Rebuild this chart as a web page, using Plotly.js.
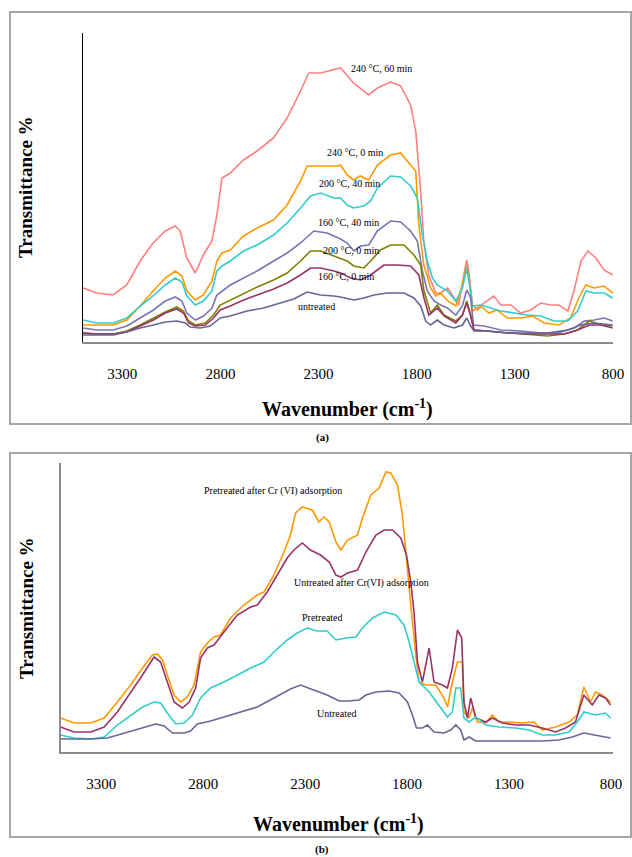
<!DOCTYPE html>
<html><head><meta charset="utf-8">
<script src="https://cdn.plot.ly/plotly-3.0.1.min.js"></script>
<style>html,body{margin:0;padding:0;background:#fff;}#chart{width:632px;height:857px;}</style>
</head><body><div id="chart"></div>
<script>
// ---------- Panel (a): pretreatment conditions ----------
const wnA_240_60 = [3500,3430,3347,3277,3209,3143,3081,3030,3005,2971,2928,2887,2843,2818,2792,2750,2683,2613,2530,2460,2392,2350,2290,2205,2188,2122,2045,2000,1933,1882,1831,1805,1780,1764,1739,1703,1678,1642,1611,1586,1560,1545,1535,1515,1489,1458,1407,1372,1321,1270,1219,1168,1117,1076,1030,999,963,928,887,846,800];
const tA_240_60 = [53,48,46,56,80,98,110,115,110,83,68,86,100,126,163,168,181,190,203,223,250,268,268,272,273,258,246,253,259,255,236,210,150,100,66,48,48,53,43,36,66,81,70,36,31,38,45,36,36,28,31,38,36,36,30,50,80,90,83,71,66];

const wnA_240_0 = [3500,3430,3347,3277,3209,3143,3081,3030,2996,2971,2928,2887,2843,2818,2792,2750,2683,2613,2530,2460,2392,2358,2290,2205,2188,2154,2122,2088,2045,2000,1933,1882,1831,1805,1789,1764,1729,1703,1678,1642,1600,1568,1545,1530,1515,1475,1432,1390,1339,1270,1210,1151,1076,1016,974,939,897,846,800];
const tA_240_0 = [16,16,16,21,35,50,63,70,65,50,41,46,60,80,88,91,105,113,121,136,160,175,175,175,176,166,161,165,161,176,186,188,176,170,116,76,53,45,48,40,35,56,75,56,30,35,28,31,23,23,25,18,16,23,43,56,53,55,48];

const wnA_200_40 = [3500,3430,3347,3277,3209,3143,3081,3030,2996,2971,2928,2887,2843,2818,2792,2750,2683,2613,2530,2460,2392,2341,2290,2222,2188,2154,2122,2069,2035,2000,1933,1882,1831,1797,1771,1746,1720,1695,1644,1601,1567,1545,1528,1516,1474,1423,1372,1304,1235,1167,1100,1031,980,938,895,844,802];
const tA_200_40 = [21,18,18,23,35,45,56,63,59,45,36,40,50,70,75,80,90,96,106,118,133,145,148,143,143,136,133,135,140,153,165,164,155,143,106,80,63,56,50,40,53,73,53,35,36,33,30,28,26,25,20,20,30,50,48,48,43];

const wnA_160_40 = [3500,3430,3345,3277,3209,3141,3081,3030,2996,2971,2928,2886,2843,2818,2750,2682,2613,2529,2460,2392,2324,2256,2188,2154,2120,2086,2044,2001,1933,1882,1831,1797,1771,1746,1712,1678,1644,1601,1567,1545,1525,1511,1457,1372,1270,1167,1082,997,946,895,844,802];
const tA_160_40 = [13,11,11,15,23,31,40,44,40,28,21,25,33,46,56,63,70,80,88,98,110,108,102,98,90,95,96,110,120,119,110,100,70,50,40,36,33,26,35,51,43,16,15,11,10,8,8,13,20,21,23,20];

const wnA_200_0 = [3500,3430,3345,3277,3209,3141,3081,3022,2988,2962,2928,2877,2835,2801,2750,2682,2613,2529,2460,2392,2341,2290,2222,2188,2154,2120,2069,2035,1984,1933,1865,1814,1780,1763,1729,1695,1661,1601,1567,1545,1525,1508,1440,1338,1235,1133,1048,980,921,861,802];
const tA_200_0 = [8,7,7,10,16,23,29,34,30,20,16,18,26,36,41,48,54,61,68,80,90,90,85,83,80,75,73,80,91,96,96,86,76,50,28,36,26,20,26,40,26,11,10,8,7,5,7,11,20,16,15];

const wnA_160_0 = [3500,3430,3345,3277,3209,3141,3081,3022,2988,2962,2928,2877,2835,2801,2750,2682,2613,2529,2460,2392,2341,2290,2222,2188,2137,2086,2035,1967,1899,1831,1789,1763,1738,1695,1661,1601,1567,1545,1525,1508,1440,1338,1235,1133,1048,980,921,861,802];
const tA_160_0 = [8,7,7,9,15,21,28,32,28,18,15,16,23,31,35,41,46,52,58,66,73,73,70,68,63,61,66,76,76,75,66,43,26,33,25,18,26,38,25,11,10,8,7,7,7,11,16,16,13];

const wnA_untr = [3500,3430,3345,3277,3209,3141,3081,3022,2979,2954,2903,2852,2801,2750,2665,2580,2494,2426,2358,2290,2222,2188,2120,2069,2018,1950,1865,1814,1780,1754,1729,1695,1661,1610,1567,1545,1525,1508,1440,1338,1235,1133,1031,963,895,802];
const tA_untr = [6,6,6,9,13,16,19,20,18,14,13,15,23,25,30,33,38,42,49,46,45,44,41,43,46,48,48,43,35,20,16,21,16,13,16,23,15,10,10,8,8,8,11,16,18,16];

const namesA = ["240 °C, 60 min","240 °C, 0 min","200 °C, 40 min","160 °C, 40 min","200 °C, 0 min","160 °C, 0 min","untreated"];
const labelWnA = [1979,2112,2142,2147,2137,2158,2311];
const labelTA  = [273,189,158,119,91,65,35];

// ---------- Panel (b): Cr(VI) adsorption ----------
const wnB_preCr = [3500,3433,3351,3286,3221,3156,3098,3049,3025,3000,2976,2943,2910,2878,2845,2813,2780,2747,2715,2666,2600,2535,2502,2453,2404,2372,2347,2314,2265,2233,2208,2182,2149,2125,2092,2043,2019,1978,1937,1904,1880,1847,1823,1806,1782,1757,1741,1708,1659,1619,1602,1578,1553,1529,1521,1496,1480,1455,1414,1382,1349,1300,1235,1178,1137,1072,1006,965,933,900,876,843,802];
const tB_preCr = [24,19,19,24,40,57,74,87,88,82,67,47,40,45,57,90,99,105,107,124,137,147,150,167,190,207,229,235,232,220,225,220,200,192,202,207,224,247,254,270,269,257,227,187,137,87,60,57,57,44,35,60,80,80,30,24,34,20,19,27,20,20,19,20,12,15,20,27,55,40,50,47,40];

const wnB_untrCr = [3500,3433,3351,3286,3221,3156,3098,3041,3009,2976,2943,2902,2869,2837,2813,2780,2747,2698,2633,2567,2535,2486,2437,2388,2355,2314,2274,2225,2182,2149,2125,2092,2043,2002,1953,1912,1872,1831,1803,1782,1766,1749,1725,1692,1668,1627,1602,1578,1553,1532,1521,1504,1488,1463,1414,1382,1333,1267,1202,1137,1072,1023,974,933,892,859,827,802];
const tB_untrCr = [15,10,10,15,30,49,67,85,80,60,40,34,40,54,84,94,97,110,127,135,137,150,167,184,192,199,192,187,180,167,165,169,172,190,207,212,212,204,187,160,130,80,60,94,60,57,54,74,112,104,40,24,44,24,20,24,19,17,17,14,10,14,20,47,37,47,44,37];

const wnB_pre = [3500,3433,3351,3286,3221,3156,3098,3041,3009,2976,2935,2894,2853,2813,2764,2698,2633,2567,2502,2453,2388,2339,2290,2241,2192,2149,2100,2051,2019,1970,1912,1855,1815,1790,1766,1741,1692,1643,1602,1578,1561,1537,1521,1496,1463,1414,1349,1267,1202,1137,1072,1006,965,933,876,827,802];
const tB_pre = [7,4,3,5,17,27,35,40,39,29,18,19,27,44,54,60,67,74,80,90,102,109,114,111,111,102,104,105,114,124,130,127,117,100,80,60,50,37,25,30,54,54,24,20,25,17,15,14,12,7,7,10,20,30,27,29,24];

const wnB_untr = [3500,3433,3351,3270,3188,3107,3033,2992,2951,2894,2862,2829,2764,2698,2617,2535,2453,2372,2323,2257,2192,2133,2084,2035,2002,1953,1888,1839,1798,1774,1754,1725,1700,1668,1619,1586,1561,1537,1521,1496,1463,1398,1267,1137,1055,990,933,876,802];
const tB_untr = [3,3,3,4,9,14,18,16,9,9,11,18,21,25,30,35,44,53,57,52,47,41,41,42,47,50,51,49,40,27,14,14,17,10,9,12,17,12,2,5,1,1,1,1,2,5,9,7,4];

const namesB = ["Pretreated after Cr (VI) adsorption","Untreated after Cr(VI) adsorption","Pretreated","Untreated"];
const labelWnB = [2459,2023,2216,2148];
const labelTB  = [251,159,125,29];

const xTicks = [3300,2800,2300,1800,1300,800];

// ---------- styling ----------
const colA = ["#ff8080","#ff9900","#33cccc","#7676b6","#808000","#993366","#666699"];
const colB = ["#ff9900","#993366","#33cccc","#666699"];
const serif = "Liberation Serif, Times New Roman, serif";

const seriesA = [[wnA_240_60,tA_240_60],[wnA_240_0,tA_240_0],[wnA_200_40,tA_200_40],[wnA_160_40,tA_160_40],[wnA_200_0,tA_200_0],[wnA_160_0,tA_160_0],[wnA_untr,tA_untr]];
const seriesB = [[wnB_preCr,tB_preCr],[wnB_untrCr,tB_untrCr],[wnB_pre,tB_pre],[wnB_untr,tB_untr]];

const traces = [];
seriesA.forEach((s,i)=>traces.push({x:s[0],y:s[1],type:"scatter",mode:"lines",name:namesA[i],xaxis:"x",yaxis:"y",line:{color:colA[i],width:1.6},hoverinfo:"skip"}));
seriesB.forEach((s,i)=>traces.push({x:s[0],y:s[1],type:"scatter",mode:"lines",name:namesB[i],xaxis:"x2",yaxis:"y2",line:{color:colB[i],width:1.6},hoverinfo:"skip"}));

const W=632,H=857;
const px=v=>v/W, py=v=>1-v/H;

const annotations = [];
const ann = (o)=>annotations.push(Object.assign({showarrow:false,xanchor:"center",yanchor:"middle"},o));
namesA.forEach((n,i)=>ann({x:labelWnA[i],y:labelTA[i],xref:"x",yref:"y",text:n,font:{family:serif,size:10,color:"#000"}}));
namesB.forEach((n,i)=>ann({x:labelWnB[i],y:labelTB[i],xref:"x2",yref:"y2",text:n,font:{family:serif,size:10,color:"#000"}}));
// axis titles and captions
const titleFont = {family:serif,size:20,color:"#000"};
ann({x:px(347),y:py(408),xref:"paper",yref:"paper",text:"<b>Wavenumber (cm<sup>-1</sup>)</b>",font:titleFont});
ann({x:px(338),y:py(823),xref:"paper",yref:"paper",text:"<b>Wavenumber (cm<sup>-1</sup>)</b>",font:titleFont});
ann({x:px(26),y:py(187),xref:"paper",yref:"paper",text:"<b>Transmittance %</b>",textangle:-90,font:{family:serif,size:19,color:"#000"}});
ann({x:px(26),y:py(608),xref:"paper",yref:"paper",text:"<b>Transmittance %</b>",textangle:-90,font:{family:serif,size:19,color:"#000"}});
ann({x:px(322),y:py(438),xref:"paper",yref:"paper",text:"<b>(a)</b>",font:{family:serif,size:11,color:"#000"}});
ann({x:px(322),y:py(849),xref:"paper",yref:"paper",text:"<b>(b)</b>",font:{family:serif,size:11,color:"#000"}});

const xCommon = {tickvals:xTicks,ticktext:xTicks.map(String),ticks:"",showgrid:false,zeroline:false,showline:true,linecolor:"#8c8c8c",linewidth:2,tickfont:{family:serif,size:15,color:"#000"},ticklabelstandoff:17,fixedrange:true};
const layout = {
  width:W,height:H,margin:{l:0,r:0,t:0,b:0},paper_bgcolor:"#fff",plot_bgcolor:"rgba(0,0,0,0)",showlegend:false,
  xaxis:Object.assign({},xCommon,{domain:[px(83),px(613)],range:[3500,800],anchor:"y"}),
  yaxis:{domain:[py(342),py(33)],range:[-1,308],showticklabels:false,ticks:"",showgrid:false,zeroline:false,showline:true,linecolor:"#000",linewidth:1.5,anchor:"x"},
  xaxis2:Object.assign({},xCommon,{domain:[px(60.5),px(613)],range:[3500,790],anchor:"y2"}),
  yaxis2:{domain:[py(752),py(463)],range:[-10,279],showticklabels:false,ticks:"",showgrid:false,zeroline:false,showline:true,linecolor:"#8c8c8c",linewidth:1.5,anchor:"x2"},
  shapes:[
    {type:"rect",xref:"paper",yref:"paper",x0:px(10),x1:px(631),y0:py(424),y1:py(12),line:{color:"#a6a6a6",width:2}},
    {type:"rect",xref:"paper",yref:"paper",x0:px(10),x1:px(631),y0:py(837),y1:py(453),line:{color:"#a6a6a6",width:2}}
  ],
  annotations:annotations
};
Plotly.newPlot("chart",traces,layout,{staticPlot:true,displayModeBar:false});
</script></body></html>
